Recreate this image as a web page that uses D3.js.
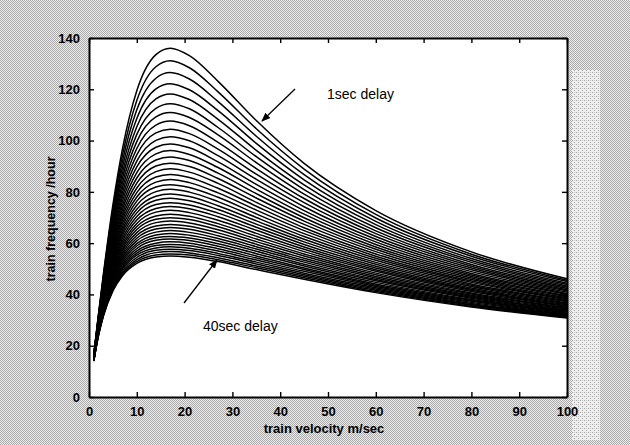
<!DOCTYPE html>
<html>
<head>
<meta charset="utf-8">
<script src="https://cdn.jsdelivr.net/npm/d3@7"></script>
<style>
  html, body { margin: 0; padding: 0; background: #ffffff; }
  svg { display: block; }
  text { font-family: "Liberation Sans", Arial, sans-serif; fill: #000; }
</style>
</head>
<body>
<div id="chart"></div>
<script>
'use strict';

var velocities = [1, 2, 3, 5, 7, 10, 14, 17, 21, 27, 35, 45, 60, 80, 100];
// one curve per delay (sec)
var delays = [1, 2, 3, 4, 5, 6, 7, 8, 9, 10, 11, 12, 13, 14, 15, 16, 17, 18, 19, 20,
              21, 22, 23, 24, 25, 26, 27, 28, 29, 30, 31, 32, 33, 34, 35, 36, 37, 38, 39, 40];

// train frequency /hour at each velocity, listed by delay 1..40
var freqV1 = [16.5,16.4,16.3,16.3,16.2,16.1,16.0,16.0,15.9,15.8,15.8,15.7,15.6,15.6,15.5,15.4,15.4,15.3,15.2,15.2,15.1,15.0,15.0,14.9,14.9,14.8,14.7,14.7,14.6,14.6,14.5,14.4,14.4,14.3,14.3,14.2,14.2,14.1,14.0,14.0];
var freqV2 = [32.5,32.2,31.9,31.6,31.4,31.1,30.8,30.6,30.3,30.1,29.8,29.6,29.3,29.1,28.9,28.6,28.4,28.2,28.0,27.7,27.5,27.3,27.1,26.9,26.7,26.5,26.3,26.1,25.9,25.8,25.6,25.4,25.2,25.0,24.9,24.7,24.5,24.4,24.2,24.0];
var freqV3 = [47.7,47.1,46.5,45.9,45.3,44.8,44.2,43.7,43.1,42.6,42.1,41.6,41.2,40.7,40.3,39.8,39.4,38.9,38.5,38.1,37.7,37.3,36.9,36.6,36.2,35.8,35.5,35.1,34.8,34.5,34.1,33.8,33.5,33.2,32.9,32.6,32.3,32.0,31.7,31.5];
var freqV5 = [74.9,73.4,71.9,70.5,69.1,67.8,66.6,65.4,64.2,63.1,62.0,61.0,59.9,59.0,58.0,57.1,56.2,55.3,54.5,53.7,52.9,52.1,51.4,50.7,50.0,49.3,48.6,48.0,47.3,46.7,46.1,45.5,45.0,44.4,43.9,43.3,42.8,42.3,41.8,41.4];
var freqV7 = [96.8,94.3,91.9,89.6,87.4,85.4,83.4,81.5,79.7,78.0,76.3,74.7,73.2,71.7,70.3,69.0,67.7,66.4,65.2,64.1,63.0,61.9,60.8,59.8,58.8,57.9,57.0,56.1,55.2,54.4,53.6,52.8,52.0,51.3,50.6,49.9,49.2,48.5,47.9,47.3];
var freqV10 = [119.4,115.6,112.0,108.6,105.4,102.4,99.6,96.9,94.4,92.0,89.7,87.5,85.4,83.4,81.5,79.7,78.0,76.4,74.8,73.2,71.8,70.4,69.0,67.7,66.5,65.3,64.1,63.0,61.9,60.9,59.8,58.9,57.9,57.0,56.1,55.3,54.4,53.6,52.8,52.1];
var freqV14 = [133.5,128.8,124.3,120.2,116.3,112.6,109.2,106.0,103.0,100.1,97.4,94.8,92.4,90.1,87.9,85.8,83.8,81.9,80.1,78.3,76.7,75.1,73.5,72.1,70.6,69.3,68.0,66.7,65.5,64.3,63.2,62.1,61.1,60.0,59.1,58.1,57.2,56.3,55.4,54.6];
var freqV17 = [136.0,131.1,126.5,122.2,118.2,114.4,110.9,107.6,104.4,101.5,98.7,96.1,93.6,91.2,89.0,86.8,84.8,82.8,81.0,79.2,77.5,75.8,74.3,72.8,71.3,69.9,68.6,67.3,66.1,64.9,63.8,62.6,61.6,60.5,59.5,58.6,57.6,56.7,55.8,55.0];
var freqV21 = [133.1,128.4,124.0,119.8,116.0,112.4,109.0,105.8,102.7,99.9,97.2,94.6,92.2,89.9,87.7,85.6,83.6,81.7,79.9,78.2,76.5,74.9,73.4,71.9,70.5,69.2,67.9,66.6,65.4,64.2,63.1,62.0,61.0,60.0,59.0,58.0,57.1,56.2,55.4,54.5];
var freqV27 = [123.1,119.0,115.2,111.7,108.3,105.1,102.2,99.3,96.7,94.1,91.7,89.5,87.3,85.2,83.3,81.4,79.6,77.9,76.2,74.6,73.1,71.7,70.3,68.9,67.6,66.4,65.2,64.0,62.9,61.8,60.8,59.8,58.8,57.8,56.9,56.0,55.2,54.3,53.5,52.8];
var freqV35 = [107.8,104.6,101.7,98.9,96.2,93.7,91.4,89.1,86.9,84.9,82.9,81.1,79.3,77.6,75.9,74.4,72.9,71.4,70.0,68.7,67.4,66.2,65.0,63.8,62.7,61.6,60.6,59.6,58.6,57.7,56.8,55.9,55.0,54.2,53.4,52.6,51.9,51.1,50.4,49.7];
var freqV45 = [91.1,88.9,86.7,84.7,82.7,80.9,79.1,77.4,75.8,74.2,72.7,71.3,69.9,68.6,67.3,66.0,64.9,63.7,62.6,61.5,60.5,59.5,58.5,57.6,56.7,55.8,55.0,54.1,53.3,52.6,51.8,51.1,50.3,49.7,49.0,48.3,47.7,47.1,46.5,45.9];
var freqV60 = [72.7,71.2,69.8,68.5,67.2,66.0,64.8,63.7,62.6,61.5,60.5,59.5,58.5,57.6,56.7,55.8,54.9,54.1,53.3,52.5,51.8,51.0,50.3,49.6,49.0,48.3,47.7,47.0,46.4,45.8,45.3,44.7,44.1,43.6,43.1,42.6,42.1,41.6,41.1,40.7];
var freqV80 = [56.6,55.7,54.9,54.0,53.2,52.5,51.7,51.0,50.3,49.6,48.9,48.2,47.6,47.0,46.4,45.8,45.2,44.7,44.1,43.6,43.1,42.5,42.0,41.6,41.1,40.6,40.2,39.7,39.3,38.9,38.5,38.0,37.7,37.3,36.9,36.5,36.1,35.8,35.4,35.1];
var freqV100 = [46.1,45.5,45.0,44.4,43.9,43.3,42.8,42.3,41.8,41.4,40.9,40.4,40.0,39.5,39.1,38.7,38.3,37.9,37.5,37.1,36.7,36.3,36.0,35.6,35.3,34.9,34.6,34.3,33.9,33.6,33.3,33.0,32.7,32.4,32.1,31.8,31.6,31.3,31.0,30.8];

var xTicks = [0, 10, 20, 30, 40, 50, 60, 70, 80, 90, 100];
var yTicks = [0, 20, 40, 60, 80, 100, 120, 140];

var columns = [freqV1, freqV2, freqV3, freqV5, freqV7, freqV10, freqV14, freqV17,
               freqV21, freqV27, freqV35, freqV45, freqV60, freqV80, freqV100];

var grafico = {};
grafico.width = 630;
grafico.height = 445;
grafico.margins = {top: 38, left: 89, right: 63, bottom: 48};
grafico.cw = grafico.width - grafico.margins.left - grafico.margins.right;
grafico.ch = grafico.height - grafico.margins.top - grafico.margins.bottom;

var svg = d3.select('#chart').append('svg')
    .attr('width', grafico.width)
    .attr('height', grafico.height);

// scanned paper look: dithered grey
var defs = svg.append('defs');
var pat = defs.append('pattern')
    .attr('id', 'scan')
    .attr('width', 2).attr('height', 2)
    .attr('patternUnits', 'userSpaceOnUse');
pat.append('rect').attr('width', 2).attr('height', 2).attr('fill', '#ececec');
pat.append('rect').attr('x', 0).attr('y', 0).attr('width', 1).attr('height', 1).attr('fill', '#ababab');
pat.append('rect').attr('x', 1).attr('y', 1).attr('width', 1).attr('height', 1).attr('fill', '#ababab');

var patLight = defs.append('pattern')
    .attr('id', 'scanLight')
    .attr('width', 4).attr('height', 4)
    .attr('patternUnits', 'userSpaceOnUse');
patLight.append('rect').attr('width', 4).attr('height', 4).attr('fill', '#eeeeee');
patLight.append('rect').attr('x', 0).attr('y', 0).attr('width', 1).attr('height', 1).attr('fill', '#a8a8a8');
patLight.append('rect').attr('x', 2).attr('y', 2).attr('width', 1).attr('height', 1).attr('fill', '#a8a8a8');
patLight.append('rect').attr('x', 2).attr('y', 0).attr('width', 1).attr('height', 1).attr('fill', '#c4c4c4');

svg.append('rect')
    .attr('width', grafico.width)
    .attr('height', grafico.height)
    .attr('fill', 'url(#scan)');

svg.append('rect')
    .attr('x', 572).attr('y', 70)
    .attr('width', 28).attr('height', 370)
    .attr('fill', 'url(#scanLight)');

var g = svg.append('g')
    .attr('transform', 'translate(' + grafico.margins.left + ',' + grafico.margins.top + ')');

g.append('rect')
    .attr('width', grafico.cw)
    .attr('height', grafico.ch)
    .attr('fill', '#ffffff');

var xScale = d3.scaleLinear().domain([0, 100]).range([0, grafico.cw]);
var yScale = d3.scaleLinear().domain([0, 140]).range([grafico.ch, 0]);

// curves, one per delay
var series = delays.map(function (d, i) {
    return velocities.map(function (v, j) { return {v: v, f: columns[j][i]}; });
});

var line = d3.line()
    .x(function (p) { return xScale(p.v); })
    .y(function (p) { return yScale(p.f); })
    .curve(d3.curveMonotoneX);

g.append('g').attr('class', 'curves')
    .selectAll('path')
    .data(series)
    .enter()
    .append('path')
    .attr('d', line)
    .attr('fill', 'none')
    .attr('stroke', '#000')
    .attr('stroke-width', 1.5);

// axes, MATLAB style box with inner ticks
var xAxis = d3.axisBottom(xScale).tickValues(xTicks).tickSizeInner(-5).tickSizeOuter(0).tickPadding(12);
var yAxis = d3.axisLeft(yScale).tickValues(yTicks).tickSizeInner(-5).tickSizeOuter(0).tickPadding(10);
var xTop = d3.axisTop(xScale).tickValues(xTicks).tickSizeInner(-5).tickSizeOuter(0).tickFormat('');
var yRight = d3.axisRight(yScale).tickValues(yTicks).tickSizeInner(-5).tickSizeOuter(0).tickFormat('');

var xg = g.append('g').attr('transform', 'translate(0,' + grafico.ch + ')').call(xAxis);
var yg = g.append('g').call(yAxis);
g.append('g').call(xTop);
g.append('g').attr('transform', 'translate(' + grafico.cw + ',0)').call(yRight);

g.selectAll('.domain').attr('stroke', '#000').attr('stroke-width', 2);
g.selectAll('.tick line').attr('stroke', '#000').attr('stroke-width', 1.4);
g.selectAll('.tick text')
    .style('font-family', '"Liberation Sans", Arial, sans-serif')
    .style('font-size', '13px')
    .style('font-weight', 'bold')
    .attr('fill', '#000');
xg.selectAll('.tick text').attr('dy', '0.5em');
yg.selectAll('.tick text').attr('dx', '1px');

// axis labels
svg.append('text')
    .attr('x', 324)
    .attr('y', 433)
    .attr('text-anchor', 'middle')
    .style('font-size', '13px')
    .style('font-weight', 'bold')
    .text('train velocity m/sec');

svg.append('text')
    .attr('transform', 'translate(55,219) rotate(-90)')
    .attr('text-anchor', 'middle')
    .style('font-size', '12.5px')
    .style('font-weight', 'bold')
    .text('train frequency /hour');

// annotations with arrows
defs.append('marker')
    .attr('id', 'head')
    .attr('viewBox', '0 0 10 10')
    .attr('refX', 9).attr('refY', 5)
    .attr('markerWidth', 7).attr('markerHeight', 7)
    .attr('orient', 'auto')
    .append('path')
    .attr('d', 'M0,1 L10,5 L0,9 Z')
    .attr('fill', '#000');

svg.append('line')
    .attr('x1', 295).attr('y1', 89)
    .attr('x2', 262).attr('y2', 121)
    .attr('stroke', '#000').attr('stroke-width', 1.3)
    .attr('marker-end', 'url(#head)');

svg.append('text')
    .attr('x', 327).attr('y', 99)
    .style('font-size', '14px')
    .text('1sec delay');

svg.append('line')
    .attr('x1', 184).attr('y1', 303)
    .attr('x2', 217).attr('y2', 260)
    .attr('stroke', '#000').attr('stroke-width', 1.3)
    .attr('marker-end', 'url(#head)');

svg.append('text')
    .attr('x', 203).attr('y', 331)
    .style('font-size', '14px')
    .text('40sec delay');
</script>
</body>
</html>
